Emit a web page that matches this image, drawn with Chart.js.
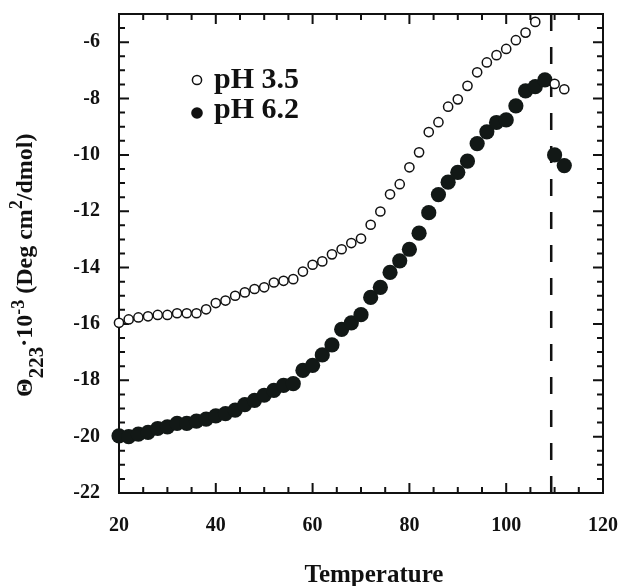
<!DOCTYPE html>
<html>
<head>
<meta charset="utf-8">
<script src="https://cdn.jsdelivr.net/npm/chart.js@4.4.0/dist/chart.umd.min.js"></script>
<style>
  html, body { margin: 0; padding: 0; background: #fff; }
  #wrap { width: 621px; height: 586px; }
</style>
</head>
<body>
<div id="wrap"><canvas id="cdChart" width="621" height="586"></canvas></div>
<script>
// temperature points and ellipticity values
const temps35 = [20, 22, 24, 26, 28, 30, 32, 34, 36, 38, 40, 42, 44, 46, 48, 50, 52, 54, 56, 58,
    60, 62, 64, 66, 68, 70, 72, 74, 76, 78, 80, 82, 84, 86, 88, 90, 92, 94, 96, 98,
    100, 102, 104, 106, 110, 112];
const theta35 = [-15.96, -15.84, -15.77, -15.73, -15.68, -15.68, -15.62, -15.62, -15.62, -15.48,
    -15.26, -15.17, -15.00, -14.88, -14.76, -14.70, -14.53, -14.47, -14.41, -14.14,
    -13.90, -13.78, -13.53, -13.35, -13.13, -12.97, -12.48, -12.01, -11.40, -11.04,
    -10.44, -9.91, -9.19, -8.84, -8.29, -8.03, -7.55, -7.07, -6.72, -6.46,
    -6.24, -5.93, -5.66, -5.28, -7.48, -7.67];

const temps62 = [20, 22, 24, 26, 28, 30, 32, 34, 36, 38, 40, 42, 44, 46, 48, 50, 52, 54, 56, 58,
    60, 62, 64, 66, 68, 70, 72, 74, 76, 78, 80, 82, 84, 86, 88, 90, 92, 94, 96, 98,
    100, 102, 104, 106, 108, 110, 112];
const theta62 = [-19.97, -20.00, -19.91, -19.85, -19.71, -19.65, -19.53, -19.53, -19.45, -19.38,
    -19.26, -19.18, -19.06, -18.86, -18.71, -18.53, -18.36, -18.18, -18.12, -17.65,
    -17.47, -17.10, -16.74, -16.19, -15.96, -15.67, -15.06, -14.70, -14.17, -13.76,
    -13.35, -12.78, -12.05, -11.41, -10.97, -10.62, -10.22, -9.60, -9.18, -8.85,
    -8.76, -8.26, -7.73, -7.58, -7.34, -10.00, -10.38];

const markerTemp = 109.3;
const xTicks = [20, 40, 60, 80, 100, 120];
const yTicks = [-22, -20, -18, -16, -14, -12, -10, -8, -6];
const xRange = [20, 120];
const yRange = [-22, -5];

const serif = '"Liberation Serif", "Times New Roman", serif';
const ink = '#111';

function toPoints(xs, ys) {
    return xs.map((x, i) => ({ x: x, y: ys[i] }));
}

// frame with inward ticks on all four sides
const framePlugin = {
    id: 'frame',
    beforeDatasetsDraw(chart) {
        const { ctx, chartArea: a, scales } = chart;
        const xs = scales.x, ys = scales.y;
        ctx.save();
        ctx.strokeStyle = ink;
        ctx.lineWidth = 2;
        ctx.strokeRect(a.left, a.top, a.right - a.left, a.bottom - a.top);
        ctx.beginPath();
        for (let v = xRange[0]; v <= xRange[1]; v += 5) {
            const len = v % 20 === 0 ? 10 : 6;
            const px = xs.getPixelForValue(v);
            ctx.moveTo(px, a.bottom); ctx.lineTo(px, a.bottom - len);
            ctx.moveTo(px, a.top); ctx.lineTo(px, a.top + len);
        }
        for (let v = yRange[0]; v <= yRange[1]; v += 0.5) {
            const len = v % 2 === 0 ? 10 : 6;
            const py = ys.getPixelForValue(v);
            ctx.moveTo(a.left, py); ctx.lineTo(a.left + len, py);
            ctx.moveTo(a.right, py); ctx.lineTo(a.right - len, py);
        }
        ctx.stroke();
        ctx.restore();
    }
};

// axis titles and legend drawn as text
const labelPlugin = {
    id: 'labels',
    afterDraw(chart) {
        const ctx = chart.ctx;
        ctx.save();
        ctx.fillStyle = ink;

        // x title
        ctx.font = 'bold 25px ' + serif;
        ctx.textAlign = 'center';
        ctx.textBaseline = 'alphabetic';
        ctx.fillText('Temperature', 374, 582);

        // y title, rotated, with sub/superscripts
        const parts = [
            { t: '\u0398', size: 24, dy: 0 },
            { t: '223', size: 21, dy: 11 },
            { t: '\u00b710', size: 24, dy: 0 },
            { t: '-3', size: 18, dy: -8 },
            { t: ' (Deg cm', size: 24, dy: 0 },
            { t: '2', size: 18, dy: -10 },
            { t: '/dmol)', size: 24, dy: 0 }
        ];
        ctx.translate(32, 397);
        ctx.rotate(-Math.PI / 2);
        ctx.textAlign = 'left';
        let x = 0;
        parts.forEach(p => {
            ctx.font = 'bold ' + p.size + 'px ' + serif;
            ctx.fillText(p.t, x, p.dy);
            x += ctx.measureText(p.t).width;
        });
        ctx.setTransform(1, 0, 0, 1, 0, 0);

        // legend
        ctx.font = 'bold 30px ' + serif;
        ctx.textAlign = 'left';
        ctx.fillText('pH 3.5', 214, 88);
        ctx.fillText('pH 6.2', 214, 118);
        ctx.lineWidth = 1.5;
        ctx.strokeStyle = ink;
        ctx.beginPath();
        ctx.arc(197, 80, 4.6, 0, Math.PI * 2);
        ctx.stroke();
        ctx.beginPath();
        ctx.arc(197, 113, 5.8, 0, Math.PI * 2);
        ctx.fill();
        ctx.restore();
    }
};

new Chart(document.getElementById('cdChart'), {
    type: 'scatter',
    data: {
        datasets: [
            {
                label: 'pH 3.5',
                data: toPoints(temps35, theta35),
                pointRadius: 4.6,
                pointBorderWidth: 1.5,
                pointBackgroundColor: '#fff',
                pointBorderColor: ink,
                showLine: false,
                clip: false
            },
            {
                label: 'pH 6.2',
                data: toPoints(temps62, theta62),
                pointRadius: 7.6,
                pointBorderWidth: 0,
                pointBackgroundColor: '#121816',
                pointBorderColor: '#121816',
                showLine: false,
                clip: false
            },
            {
                label: 'marker',
                data: [{ x: markerTemp, y: yRange[0] }, { x: markerTemp, y: yRange[1] }],
                showLine: true,
                borderColor: ink,
                borderWidth: 2.5,
                borderDash: [17, 16],
                pointRadius: 0
            }
        ]
    },
    options: {
        responsive: false,
        animation: false,
        devicePixelRatio: 1,
        layout: { padding: { top: 14, right: 18, left: 0, bottom: 0 } },
        plugins: {
            legend: { display: false },
            tooltip: { enabled: false }
        },
        scales: {
            x: {
                type: 'linear',
                min: xRange[0],
                max: xRange[1],
                afterBuildTicks: s => { s.ticks = xTicks.map(v => ({ value: v })); },
                afterFit: s => { s.height = 93; s.paddingLeft = 0; s.paddingRight = 0; },
                grid: { display: false, drawTicks: false },
                border: { display: false },
                ticks: {
                    color: ink,
                    padding: 21,
                    maxRotation: 0,
                    font: { family: serif, size: 20, weight: 'bold' }
                }
            },
            y: {
                type: 'linear',
                min: yRange[0],
                max: yRange[1],
                afterBuildTicks: s => { s.ticks = yTicks.map(v => ({ value: v })); },
                afterFit: s => { s.width = 119; s.paddingTop = 0; s.paddingBottom = 0; },
                grid: { display: false, drawTicks: false },
                border: { display: false },
                ticks: {
                    color: ink,
                    padding: 19,
                    font: { family: serif, size: 20, weight: 'bold' }
                }
            }
        }
    },
    plugins: [framePlugin, labelPlugin]
});
</script>
</body>
</html>
